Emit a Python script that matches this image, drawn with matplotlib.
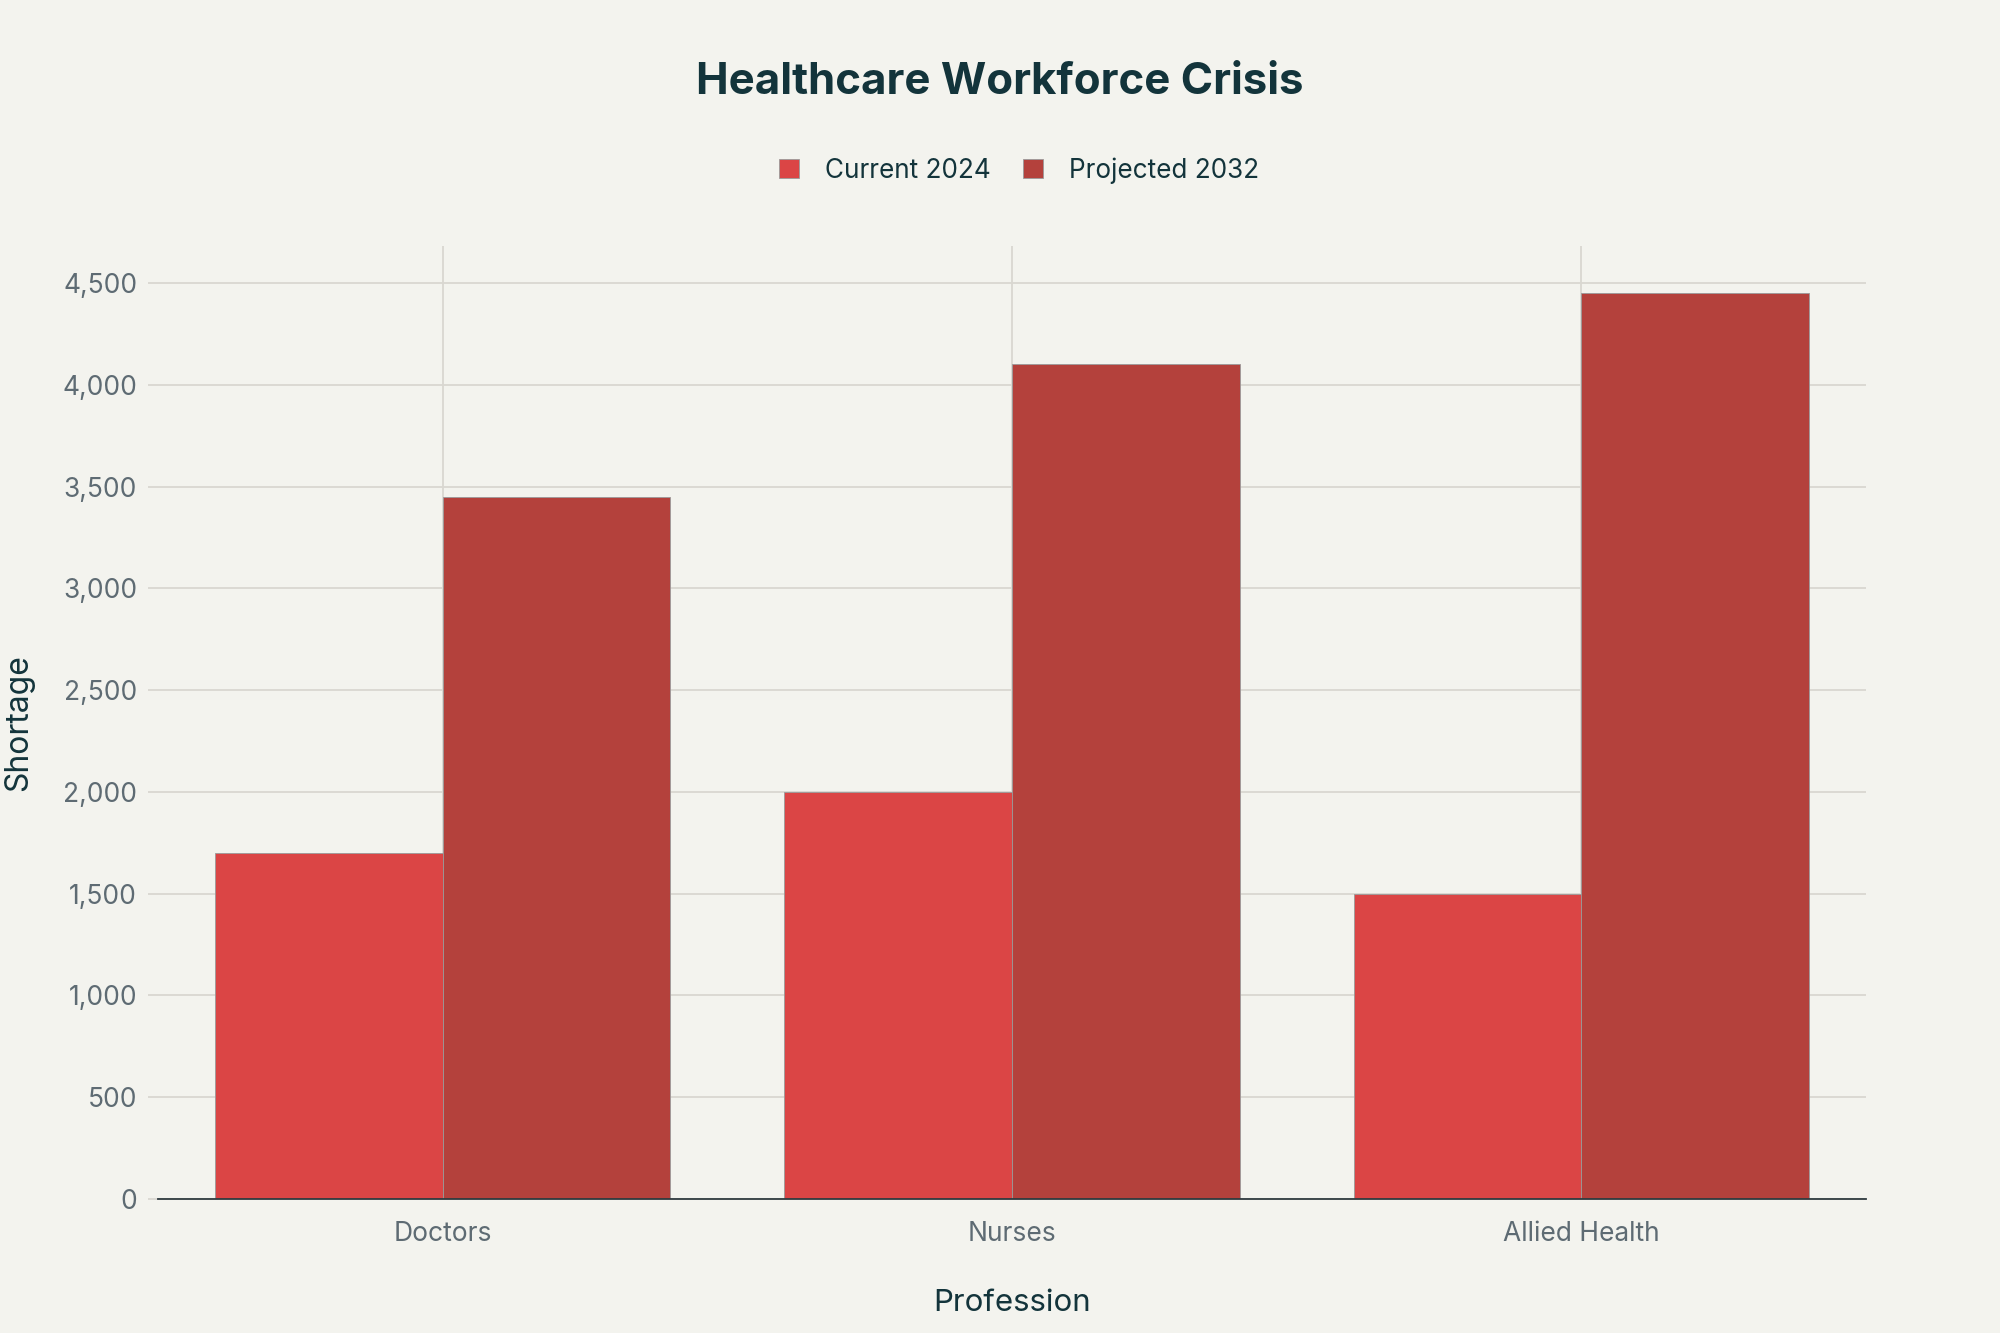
import matplotlib.pyplot as plt
import numpy as np

professions = ['Doctors', 'Nurses', 'Allied Health']
current_2024 = [1700, 2000, 1500]
projected_2032 = [3450, 4100, 4450]
series_names = ['Current 2024', 'Projected 2032']
series_colors = ['#DB4545', '#B4413C']

bg = '#F3F3EE'
dark = '#13343B'
grid_c = '#D9D7D1'
tick_c = '#5E6B73'

plt.rcParams['font.family'] = ['Inter', 'DejaVu Sans']

fig = plt.figure(figsize=(20, 13.33), dpi=100, facecolor=bg)
ax = fig.add_axes([0.079, 0.1005, 0.854, 0.715], facecolor=bg)

x = np.arange(len(professions))
w = 0.4
ax.bar(x - w / 2, current_2024, w, color=series_colors[0], label=series_names[0],
       edgecolor='#9A9A9A', linewidth=0.6, zorder=3)
ax.bar(x + w / 2, projected_2032, w, color=series_colors[1], label=series_names[1],
       edgecolor='#9A9A9A', linewidth=0.6, zorder=3)

ax.set_xlim(-0.5, 2.5)
ax.set_ylim(0, 4682)
ax.set_yticks(np.arange(0, 4501, 500))
ax.yaxis.set_major_formatter(plt.FuncFormatter(lambda v, p: f'{int(v):,}'))
ax.set_xticks(x)
ax.set_xticklabels(professions)

ax.grid(True, color=grid_c, linewidth=1.3, zorder=0)
ax.set_axisbelow(True)
for s in ['top', 'right', 'left']:
    ax.spines[s].set_visible(False)
ax.spines['bottom'].set_color('#2F3B3F')
ax.spines['bottom'].set_linewidth(1.3)
ax.spines['bottom'].set_zorder(4)

ax.tick_params(axis='y', colors=grid_c, length=7, width=1.3, pad=8, labelsize=19,
               labelcolor=tick_c)
ax.tick_params(axis='x', length=0, pad=16, labelsize=19, labelcolor=tick_c)

ax.set_xlabel('Profession', fontsize=22.5, color=dark, labelpad=30)
ax.set_ylabel('Shortage', fontsize=23, color=dark, labelpad=20)

fig.text(0.5, 0.938, 'Healthcare Workforce Crisis', ha='center', va='center',
         fontsize=31.5, fontweight='bold', color=dark)

fig.legend(loc='center', bbox_to_anchor=(0.5096, 0.872), ncol=2, frameon=False,
           fontsize=18.8, labelcolor=dark, handlelength=0.75, handleheight=0.75,
           handletextpad=1.0, columnspacing=1.25)

fig.savefig('out.png', dpi=100, facecolor=bg)
